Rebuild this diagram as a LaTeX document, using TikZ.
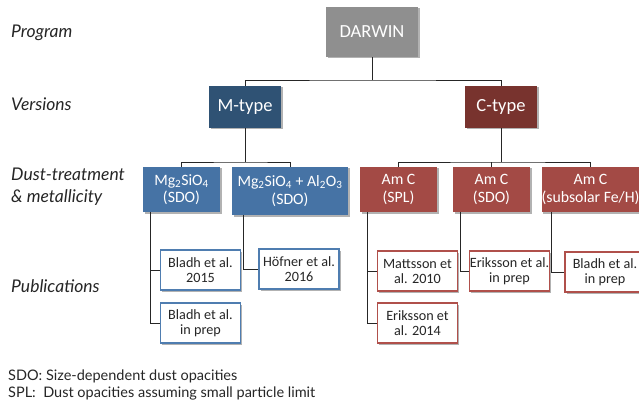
\documentclass[tikz,border=0pt]{standalone}
\usepackage{fontspec}
\setmainfont{Carlito}
\newfontfamily\lblfont{Lato}
\usetikzlibrary{shadows,calc}
\definecolor{cgray}{HTML}{8F8F8F}
\definecolor{mdark}{HTML}{2F5274}
\definecolor{cdark}{HTML}{78332E}
\definecolor{mlight}{HTML}{4673A5}
\definecolor{clight}{HTML}{A34A45}
\definecolor{mline}{HTML}{4F7DB0}
\definecolor{cline}{HTML}{B0504B}
\begin{document}
\begin{tikzpicture}[x=1pt,y=-1pt,
  shad/.style={drop shadow={shadow xshift=1.5pt,shadow yshift=-1.5pt,opacity=0.3,fill=black}},
  topbox/.style={shad,fill=#1,text=white,inner sep=0pt,align=center,font=\fontsize{18.5}{21}\selectfont},
  midbox/.style={shad,fill=#1,text=white,inner sep=0pt,align=center,font=\fontsize{15.8}{17.5}\selectfont},
  pubbox/.style={shad,fill=white,draw=#1,line width=1.8pt,text=black!85,inner sep=0pt,align=center,
    minimum width=80pt,minimum height=40pt,font=\fontsize{14.2}{15}\selectfont},
  lvl/.style={anchor=west,inner sep=0pt,align=left,text=black!85,font=\lblfont\itshape\fontsize{17.5}{22}\selectfont},
  legend/.style={anchor=west,inner sep=0pt,align=left,text=black!85,font=\lblfont\fontsize{14.5}{16}\selectfont},
  conn/.style={draw=black!85,line width=0.8pt}]
\clip (0,0) rectangle (639,406);
\fill[white] (0,0) rectangle (639,406);

% level labels
\node[lvl] (lprog) at (11,33) {Program};
\node[lvl] (lvers) at (11,104) {Versions};
\node[lvl] (ldust) at (11,187) {Dust-treatment\\\& metallicity};
\node[lvl] (lpub) at (11,286) {Publications};

% top
\node[topbox=cgray,minimum width=92pt,minimum height=50pt] (darwin) at (372,32) {DARWIN};
\node[topbox=mdark,minimum width=72pt,minimum height=42pt] (mtype) at (245,107) {M-type};
\node[topbox=cdark,minimum width=72pt,minimum height=42pt] (ctype) at (501,107) {C-type};

% dust treatment
\node[midbox=mlight,minimum width=77pt,minimum height=45pt] (mg1) at (181.5,189.5) {Mg\textsubscript{2}SiO\textsubscript{4}\\(SDO)};
\node[midbox=mlight,minimum width=116pt,minimum height=48pt] (mg2) at (290,191) {Mg\textsubscript{2}SiO\textsubscript{4} + Al\textsubscript{2}O\textsubscript{3}\\(SDO)};
\node[midbox=clight,minimum width=77pt,minimum height=45pt] (am1) at (398.5,189.5) {Am C\\(SPL)};
\node[midbox=clight,minimum width=77pt,minimum height=45pt] (am2) at (491.5,189.5) {Am C\\(SDO)};
\node[midbox=clight,minimum width=97pt,minimum height=45pt] (am3) at (590.5,189.5) {Am C\\(subsolar Fe/H)};

% publications
\node[pubbox=mline] (p1) at (200.5,270) {Bladh et al.\\2015};
\node[pubbox=mline] (p2) at (200.5,323) {Bladh et al.\\in prep};
\node[pubbox=mline] (p3) at (299,269) {Höfner et al.\\2016};
\node[pubbox=cline] (p4) at (417.5,271) {Mattsson et\\al. 2010};
\node[pubbox=cline] (p5) at (417.5,323) {Eriksson et\\al. 2014};
\node[pubbox=cline] (p6) at (509.5,271) {Eriksson et al.\\in prep};
\node[pubbox=cline] (p7) at (605,272) {Bladh et al.\\in prep};

% connectors
\coordinate (b1) at (372,80);
\coordinate (b2) at (245,162);
\coordinate (b3) at (501,162);
\draw[conn] (darwin.south) -- (b1);
\draw[conn] (mtype.north) |- (b1) -| (ctype.north);
\draw[conn] (mtype.south) -- (b2);
\draw[conn] (mg1.north) |- (b2) -| (mg2.north);
\draw[conn] (ctype.south) -- (b3);
\draw[conn] (am1.north) |- (b3) -| (am3.north);
\draw[conn] (am2.north) -- (am2.north |- b3);

\draw[conn] ($(mg1.south west)+(8,0)$) |- (p2.west);
\draw[conn] ($(mg1.south west)+(8,0)$) |- (p1.west);
\draw[conn] ($(mg2.south west)+(12,0)$) |- (p3.west);
\draw[conn] ($(am1.south west)+(8,0)$) |- (p5.west);
\draw[conn] ($(am1.south west)+(8,0)$) |- (p4.west);
\draw[conn] ($(am2.south west)+(8,0)$) |- (p6.west);
\draw[conn] ($(am3.south west)+(10,0)$) |- (p7.west);

% legend
\node[legend] (leg1) at (8,376) {SDO: Size-dependent dust opacities};
\node[legend] (leg2) at (8,393) {SPL:\ \ Dust opacities assuming small particle limit};
\end{tikzpicture}
\end{document}
